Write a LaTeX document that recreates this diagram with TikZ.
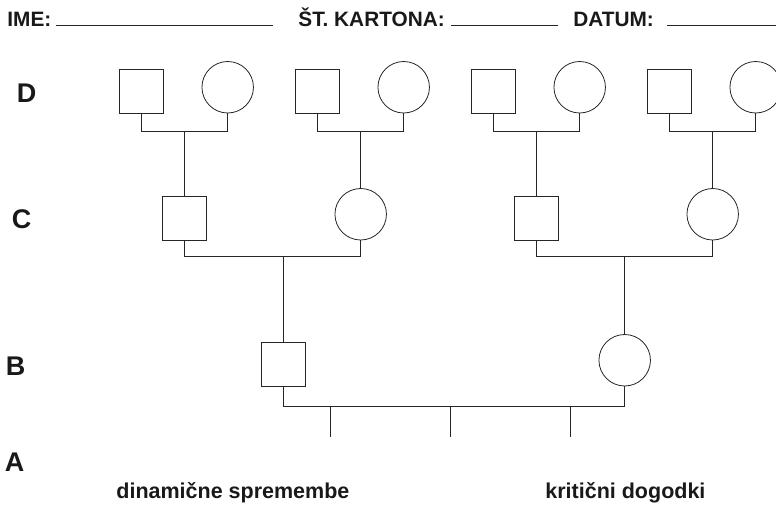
\documentclass[tikz,border=0pt]{standalone}
\usepackage{fontspec}
\setmainfont{Liberation Sans}
\usetikzlibrary{positioning}

\tikzset{
  male/.style={draw,rectangle,minimum size=44pt,inner sep=0pt},
  female/.style={draw,circle,minimum size=51.5pt,inner sep=0pt},
  gen/.style={anchor=base west,inner sep=0pt,font=\bfseries\fontsize{27}{27}\selectfont},
  head/.style={anchor=base west,inner sep=0pt,font=\bfseries\fontsize{20.8}{20.8}\selectfont},
  foot/.style={anchor=base west,inner sep=0pt,font=\bfseries\fontsize{21.5}{21.5}\selectfont},
}

\begin{document}
\begin{tikzpicture}[x=1pt,y=-1pt,line width=0.8pt,draw=black!85,text=black!90]
  \useasboundingbox (0,0) rectangle (776,506);

  % header
  \node[head] (ime) at (7,26) {IME:};
  \node[head] (karton) at (298,26) {ŠT. KARTONA:};
  \node[head] (datum) at (573,26) {DATUM:};
  \coordinate (ime1) at (56,25);   \coordinate (ime2) at (273,25);
  \coordinate (kar1) at (451,25);  \coordinate (kar2) at (558,25);
  \coordinate (dat1) at (667,25);  \coordinate (dat2) at (776,25);
  \draw (ime1) -- (ime2);
  \draw (kar1) -- (kar2);
  \draw (dat1) -- (dat2);

  % generation labels
  \node[gen] (labD) at (16.5,102.5) {D};
  \node[gen] (labC) at (11.5,228) {C};
  \node[gen] (labB) at (5.5,375) {B};
  \node[gen] (labA) at (4.5,471.5) {A};

  % D: four couples
  \foreach \i/\x in {1/141.7,2/317.7,3/493.7,4/669.7}{
    \node[male] (dm\i) at (\x,91) {};
    \node[female] (df\i) at (\x+86,87.25) {};
    \coordinate (dj\i) at (\x+43,131.5);
    \draw (dm\i.south) |- (dj\i) -| (df\i.south);
  }

  % C
  \node[male] (cm1) at (184.7,218) {};
  \node[female] (cf1) at (360.7,214.25) {};
  \node[male] (cm2) at (536.7,218) {};
  \node[female] (cf2) at (712.7,214.25) {};
  \draw (dj1) -- (cm1.north);
  \draw (dj2) -- (cf1.north);
  \draw (dj3) -- (cm2.north);
  \draw (dj4) -- (cf2.north);
  \coordinate (cj1) at (283,256.5);
  \coordinate (cj2) at (624.7,256.5);
  \draw (cm1.south) |- (cj1) -| (cf1.south);
  \draw (cm2.south) |- (cj2) -| (cf2.south);

  % B
  \node[male] (bm) at (283,364) {};
  \node[female] (bf) at (624.7,360.25) {};
  \draw (cj1) -- (bm.north);
  \draw (cj2) -- (bf.north);
  \coordinate (bj) at (450,406.5);
  \draw (bm.south) |- (bj) -| (bf.south);

  % A: children
  \foreach \i/\x in {1/330,2/450,3/570}{
    \coordinate (at\i) at (\x,406.5);
    \coordinate (ab\i) at (\x,436.5);
    \draw (at\i) -- (ab\i);
  }

  \node[foot] (dyn) at (116,498) {dinamične spremembe};
  \node[foot] (krit) at (545,498) {kritični dogodki};
\end{tikzpicture}
\end{document}
